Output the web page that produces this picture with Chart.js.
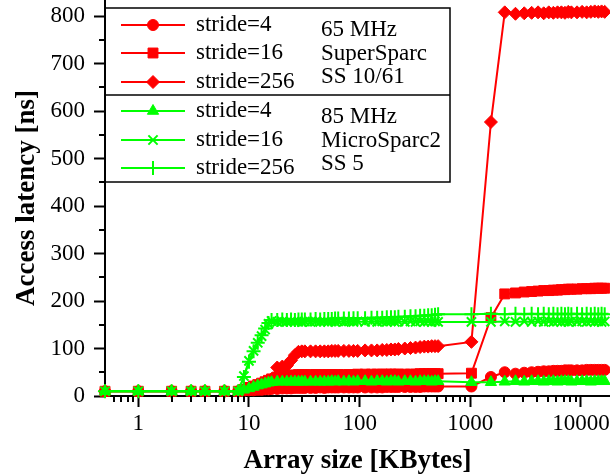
<!DOCTYPE html>
<html>
<head>
<meta charset="utf-8">
<script src="https://cdn.jsdelivr.net/npm/chart.js@4.4.1/dist/chart.umd.min.js"></script>
<style>
html,body{margin:0;padding:0;background:#fff;}
#wrap{width:610px;height:476px;position:relative;}
</style>
</head>
<body>
<div id="wrap"><canvas id="c" width="610" height="476"></canvas></div>
<script>
// ---- data ----
const sizesKB = [0.5,1,2,3,4,6,8,9,10,11,12,13,14,15,16,18,20,22,24,26,28,30,32,36,40,44,48,52,56,60,64,72,80,88,96,112,128,144,160,176,192,208,224,256,288,320,352,384,416,448,480,512,1024,1536,2048,2560,3072,3584,4096,4608,5120,5632,6144,6656,7168,7680,8192,9216,10240,11264,12288,13312,14336,15360,16384];

const superStride4 = [10,10,10,10,10,10,10, 11,12,12,13,13,14,14,15, 15,16,16,16,17,17,17,17, 17,17,18,17,18,18,18,18, 18,18,18,18, 18,18,18,18,19,19,19,19, 19,19,19,19,20,20,20,20,20, 20,40, 50,47,49,50,51,52,52,53,53,53,54,54,54, 54,54,55,55,55,55,55,55];
const superStride16 = [10,10,10,10,10,10,10, 14,18,21,24,27,30,33,36, 40,42,43,44,44,45,45,45, 45,45,45,45,45,45,45,45, 45,45,45,46, 46,46,46,46,46,46,46,46, 46,46,46,47,47,47,47,47,47, 48,165, 215,217,219,220,221,222,222,223,223,224,224,225,225, 225,226,226,226,227,227,227,227];
const superStride256 = [10,10,10,10,10,10,10, 12,15,18,21,24,28,32,36, 60,62,64,75,86,93,94,94, 94,94,94,94,94,95,95,95, 95,95,95,95, 96,96,96,97,97,98,98,99, 100,101,102,103,104,104,105,105,105, 114,577, 808,805,806,807,808,806,808,807,808,808,807,809,808, 808,809,808,809,810,809,810,809];
const microStride4 = [10,10,10,10,10,10,10, 13,16,19,22,24,26,28,29, 30,30,30,30,30,30,30,30, 30,30,30,30,30,31,30,31, 30,31,30,31, 31,30,31,31,30,31,31,30, 31,31,30,31,31,31,30,31,31, 29,29, 30,31,30,31,31,30,31,31,30,31,31,31,30, 31,31,31,30,31,31,31,31];
const microStride16 = [10,10,10,10,10,10,10, 42,74,95,112,126,140,152,158, 156,157,156,157,156,157,156,157, 156,157,156,157,156,157,156,157, 156,157,156,157, 156,157,156,157,156,157,156,157, 156,157,156,157,156,157,156,157,156, 156,156, 157,156,157,156,157,156,157,156,157,156,157,156,157, 156,157,156,157,156,157,156,157];
const microStride256 = [10,10,10,10,10,10,10, 40,72,94,112,128,142,154,160, 160,161,160,161,160,161,161,161, 161,162,161,162,162,162,163,163, 163,163,164,164, 164,165,165,165,166,166,166,167, 167,168,168,169,169,170,170,171,172, 172,173, 172,173,172,173,172,173,172,173,172,173,172,173,172, 173,172,173,172,173,172,173,172];

const seriesLabels = ["stride=4","stride=16","stride=256","stride=4","stride=16","stride=256"];
const machines = [["65 MHz","SuperSparc","SS 10/61"],["85 MHz","MicroSparc2","SS 5"]];

const xMajorTicks = [1,10,100,1000,10000];
const xMinorTicks = [0.6,0.7,0.8,0.9,2,3,4,5,6,7,8,9,20,30,40,50,60,70,80,90,200,300,400,500,600,700,800,900,2000,3000,4000,5000,6000,7000,8000,9000];
const yMajorTicks = [0,100,200,300,400,500,600,700,800];
const yMinorTicks = [50,150,250,350,450,550,650,750];

const xTitle = "Array size [KBytes]";
const yTitle = "Access latency [ns]";

// ---- styles ----
const RED = '#ff0000', GREEN = '#00ff00';
const FONT = "Liberation Serif";
Chart.defaults.font.family = FONT;
Chart.defaults.font.size = 23;
Chart.defaults.color = '#000';

function ds(label, values, color, style, radius, bw, order) {
  return {
    label: label,
    data: sizesKB.map((x, i) => ({x: x, y: values[i]})),
    borderColor: color,
    backgroundColor: color,
    pointBackgroundColor: color,
    pointBorderColor: color,
    pointStyle: style,
    pointRadius: radius,
    pointBorderWidth: bw,
    borderWidth: 2,
    tension: 0,
    clip: false,
    order: order
  };
}

const datasets = [
  ds(seriesLabels[0], superStride4, RED, 'circle', 5.5, 1, 1),
  ds(seriesLabels[1], superStride16, RED, 'rect', 7, 1, 1),
  ds(seriesLabels[2], superStride256, RED, 'rectRot', 6.5, 1, 1),
  ds(seriesLabels[3], microStride4, GREEN, 'triangle', 6.5, 1, 0),
  ds(seriesLabels[4], microStride16, GREEN, 'crossRot', 6.5, 2, 0),
  ds(seriesLabels[5], microStride256, GREEN, 'cross', 7, 2, 0)
];

const minorTickPlugin = {
  id: 'minorTicks',
  afterDraw(chart) {
    const ctx = chart.ctx;
    const xs = chart.scales.x, ys = chart.scales.y;
    ctx.save();
    ctx.strokeStyle = '#000';
    ctx.lineWidth = 2;
    ctx.beginPath();
    xMinorTicks.forEach(v => {
      const px = Math.round(xs.getPixelForValue(v));
      ctx.moveTo(px, xs.top);
      ctx.lineTo(px, xs.top + 6);
    });
    yMinorTicks.forEach(v => {
      const py = Math.round(ys.getPixelForValue(v));
      ctx.moveTo(ys.right, py);
      ctx.lineTo(ys.right - 6, py);
    });
    ctx.stroke();
    ctx.restore();
  }
};

const legendPlugin = {
  id: 'boxLegend',
  afterDraw(chart) {
    const ctx = chart.ctx;
    const left = chart.chartArea.left, right = 450;
    const top = 8, mid = 95, bottom = 182;
    ctx.save();
    ctx.strokeStyle = '#000';
    ctx.lineWidth = 1.5;
    ctx.strokeRect(left, top, right - left, bottom - top);
    ctx.beginPath();
    ctx.moveTo(left, mid);
    ctx.lineTo(right, mid);
    ctx.stroke();
    const rows = [25, 53, 82, 111, 140, 168];
    ctx.font = "23px " + FONT;
    ctx.textBaseline = 'middle';
    ctx.textAlign = 'left';
    chart.data.datasets.forEach((d, i) => {
      const y = rows[i];
      ctx.strokeStyle = d.borderColor;
      ctx.lineWidth = 2;
      ctx.beginPath();
      ctx.moveTo(121, y);
      ctx.lineTo(185, y);
      ctx.stroke();
      ctx.fillStyle = d.pointBackgroundColor;
      ctx.strokeStyle = d.pointBorderColor;
      ctx.lineWidth = d.pointBorderWidth;
      Chart.helpers.drawPoint(ctx, {pointStyle: d.pointStyle, radius: d.pointRadius, rotation: 0, borderWidth: d.pointBorderWidth}, 153, y);
      ctx.fillStyle = '#000';
      ctx.fillText(d.label, 196, y);
    });
    const mrows = [[30, 54, 77], [117, 141, 164]];
    ctx.fillStyle = '#000';
    machines.forEach((m, g) => {
      m.forEach((t, j) => ctx.fillText(t, 321, mrows[g][j]));
    });
    ctx.restore();
  }
};

new Chart(document.getElementById('c'), {
  type: 'line',
  data: {datasets: datasets},
  options: {
    responsive: false,
    animation: false,
    devicePixelRatio: 1,
    layout: {padding: 0, autoPadding: false},
    plugins: {legend: {display: false}, tooltip: {enabled: false}},
    scales: {
      x: {
        type: 'logarithmic',
        min: 0.5,
        max: 18300,
        afterBuildTicks: s => { s.ticks = xMajorTicks.map(v => ({value: v})); },
        afterFit: s => { s.height = 80; s.paddingLeft = 0; s.paddingRight = 0; },
        border: {display: true, color: '#000', width: 2},
        grid: {drawOnChartArea: false, drawTicks: true, tickLength: 11, tickWidth: 2, tickColor: '#000'},
        ticks: {
          color: '#000', padding: 3, maxRotation: 0, autoSkip: false,
          font: {family: FONT, size: 23},
          callback: v => String(v)
        },
        title: {
          display: true, text: xTitle, color: '#000',
          font: {family: FONT, size: 27, weight: 'bold', lineHeight: 1},
          padding: {top: 0, bottom: 1}
        }
      },
      y: {
        type: 'linear',
        min: 0,
        max: 834,
        afterBuildTicks: s => { s.ticks = yMajorTicks.map(v => ({value: v})); },
        afterFit: s => { s.width = 105; s.paddingTop = 0; s.paddingBottom = 0; },
        border: {display: true, color: '#000', width: 2},
        grid: {drawOnChartArea: false, drawTicks: true, tickLength: 11, tickWidth: 2, tickColor: '#000'},
        ticks: {
          color: '#000', padding: 9,
          font: {family: FONT, size: 23},
          callback: v => String(v)
        },
        title: {
          display: true, text: yTitle, color: '#000',
          font: {family: FONT, size: 27, weight: 'bold', lineHeight: 1},
          padding: {top: 14, bottom: 0}
        }
      }
    }
  },
  plugins: [minorTickPlugin, legendPlugin]
});
</script>
</body>
</html>
